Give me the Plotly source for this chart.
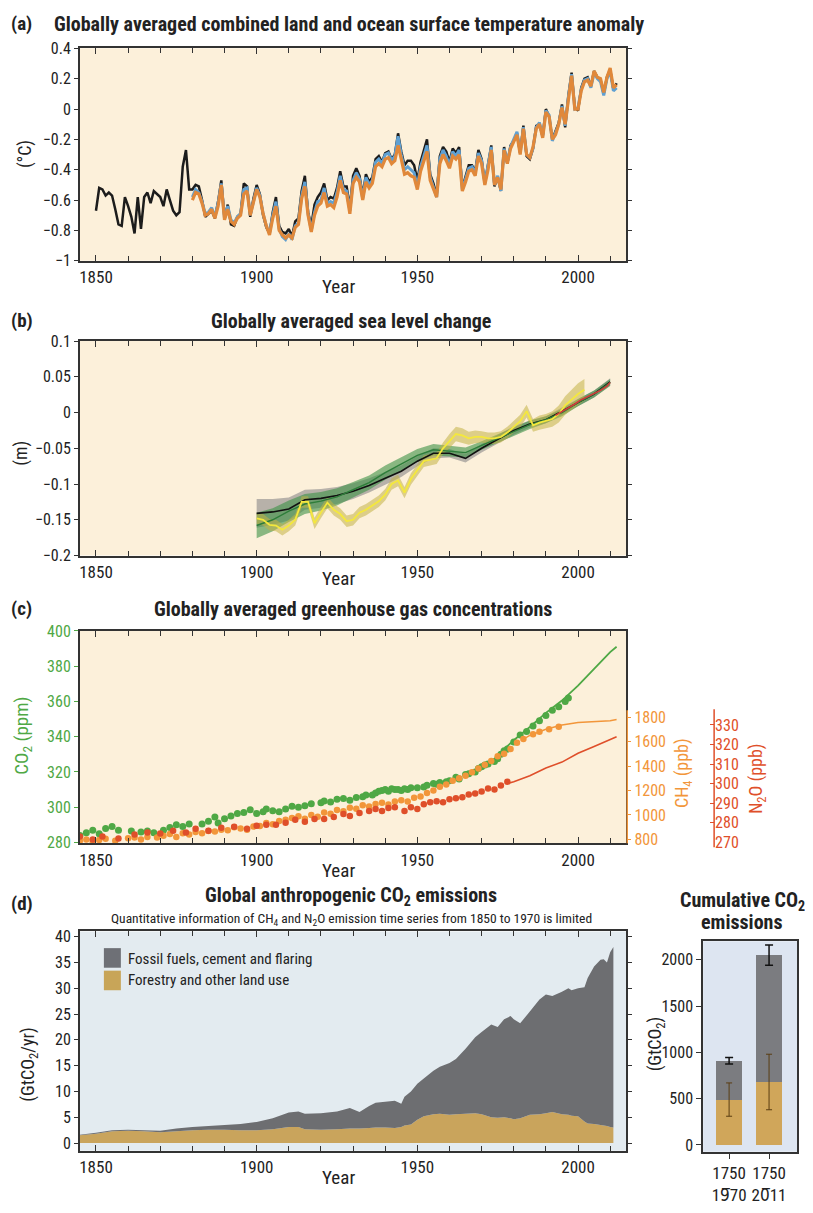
import plotly.graph_objects as go

# the page body has an 8px margin: size the figure so the page fits the 813x1213 window exactly
OFF = 8
W, H = 813 - OFF, 1213 - 2 * OFF
def fx(p): return (p - OFF) / W
def fy(p): return 1 - (p - OFF) / H

FONT = "Liberation Sans Narrow, Roboto Condensed, DejaVu Sans Condensed, Liberation Sans, sans-serif"
AX = "#333333"

# ---------------- (a) temperature anomaly ----------------
years_black = list(range(1850, 2013))
temp_black = [
    -0.67, -0.52, -0.53, -0.57, -0.55, -0.57, -0.66, -0.76, -0.77, -0.58,
    -0.64, -0.71, -0.82, -0.58, -0.79, -0.58, -0.55, -0.62, -0.54, -0.56,
    -0.58, -0.64, -0.53, -0.60, -0.67, -0.70, -0.68, -0.38, -0.27, -0.53,
    -0.53, -0.50, -0.51, -0.60, -0.71, -0.69, -0.67, -0.72, -0.61, -0.47,
    -0.72, -0.63, -0.76, -0.77, -0.71, -0.69, -0.49, -0.51, -0.71, -0.59,
    -0.50, -0.56, -0.70, -0.78, -0.82, -0.68, -0.58, -0.77, -0.81, -0.82,
    -0.79, -0.84, -0.74, -0.72, -0.54, -0.44, -0.68, -0.77, -0.63, -0.58,
    -0.55, -0.49, -0.60, -0.58, -0.59, -0.52, -0.41, -0.51, -0.51, -0.65,
    -0.44, -0.39, -0.44, -0.57, -0.43, -0.48, -0.45, -0.33, -0.31, -0.35,
    -0.29, -0.28, -0.33, -0.30, -0.16, -0.28, -0.37, -0.34, -0.34, -0.37,
    -0.47, -0.35, -0.27, -0.20, -0.43, -0.49, -0.57, -0.31, -0.25, -0.28,
    -0.35, -0.26, -0.29, -0.25, -0.52, -0.44, -0.37, -0.37, -0.41, -0.27,
    -0.33, -0.49, -0.37, -0.24, -0.51, -0.45, -0.54, -0.25, -0.36, -0.24,
    -0.21, -0.16, -0.29, -0.11, -0.31, -0.33, -0.26, -0.11, -0.10, -0.18,
    0.00, -0.05, -0.20, -0.15, -0.09, 0.03, -0.12, 0.09, 0.24, 0.01,
    -0.01, 0.14, 0.20, 0.21, 0.15, 0.25, 0.21, 0.19, 0.10, 0.21,
    0.26, 0.13, 0.17]
years_other = list(range(1880, 2013))
temp_blue = [
    -0.58, -0.53, -0.55, -0.61, -0.69, -0.68, -0.65, -0.71, -0.62, -0.49,
    -0.72, -0.64, -0.73, -0.75, -0.71, -0.69, -0.53, -0.52, -0.70, -0.60,
    -0.52, -0.57, -0.69, -0.77, -0.82, -0.70, -0.61, -0.79, -0.84, -0.86,
    -0.82, -0.86, -0.77, -0.75, -0.57, -0.48, -0.69, -0.80, -0.68, -0.61,
    -0.60, -0.52, -0.62, -0.61, -0.62, -0.55, -0.44, -0.53, -0.54, -0.67,
    -0.47, -0.42, -0.46, -0.59, -0.45, -0.50, -0.47, -0.35, -0.33, -0.36,
    -0.30, -0.29, -0.34, -0.31, -0.18, -0.30, -0.40, -0.38, -0.40, -0.42,
    -0.51, -0.38, -0.31, -0.24, -0.45, -0.51, -0.58, -0.33, -0.27, -0.31,
    -0.37, -0.28, -0.31, -0.27, -0.53, -0.46, -0.39, -0.38, -0.42, -0.29,
    -0.34, -0.49, -0.38, -0.25, -0.50, -0.44, -0.54, -0.26, -0.35, -0.25,
    -0.20, -0.15, -0.29, -0.12, -0.30, -0.32, -0.26, -0.12, -0.09, -0.18,
    -0.01, -0.04, -0.21, -0.16, -0.10, 0.02, -0.11, 0.08, 0.23, 0.00,
    0.01, 0.13, 0.19, 0.20, 0.14, 0.24, 0.20, 0.18, 0.09, 0.20,
    0.25, 0.12, 0.14]
temp_orange = [
    -0.60, -0.55, -0.56, -0.62, -0.70, -0.69, -0.66, -0.72, -0.64, -0.50,
    -0.73, -0.66, -0.74, -0.76, -0.72, -0.70, -0.56, -0.54, -0.70, -0.62,
    -0.53, -0.58, -0.69, -0.77, -0.83, -0.72, -0.64, -0.80, -0.83, -0.85,
    -0.83, -0.85, -0.78, -0.76, -0.59, -0.51, -0.70, -0.81, -0.70, -0.64,
    -0.62, -0.55, -0.64, -0.63, -0.65, -0.58, -0.47, -0.55, -0.56, -0.69,
    -0.49, -0.45, -0.48, -0.60, -0.48, -0.52, -0.49, -0.38, -0.36, -0.38,
    -0.33, -0.32, -0.36, -0.34, -0.24, -0.33, -0.43, -0.42, -0.44, -0.45,
    -0.53, -0.41, -0.35, -0.28, -0.47, -0.52, -0.58, -0.36, -0.30, -0.34,
    -0.39, -0.31, -0.33, -0.30, -0.54, -0.48, -0.41, -0.40, -0.44, -0.31,
    -0.36, -0.50, -0.40, -0.27, -0.50, -0.45, -0.53, -0.27, -0.36, -0.26,
    -0.21, -0.17, -0.30, -0.13, -0.30, -0.32, -0.25, -0.13, -0.10, -0.19,
    -0.02, -0.05, -0.20, -0.17, -0.10, 0.01, -0.10, 0.07, 0.22, 0.00,
    0.00, 0.12, 0.18, 0.19, 0.15, 0.25, 0.21, 0.20, 0.11, 0.21,
    0.27, 0.14, 0.16]

# ---------------- (b) sea level ----------------
sl_years5 = [1900, 1905, 1910, 1915, 1920, 1925, 1930, 1935, 1940, 1945, 1950, 1955,
             1960, 1965, 1970, 1975, 1980, 1985, 1990, 1995, 2000, 2005, 2010]
sl_black = [-0.141, -0.139, -0.135, -0.122, -0.120, -0.116, -0.110, -0.102, -0.092, -0.082,
            -0.068, -0.057, -0.057, -0.064, -0.050, -0.038, -0.025, -0.016, -0.010, 0.002,
            0.014, 0.026, 0.043]
sl_black_hw = [0.020, 0.018, 0.016, 0.014, 0.013, 0.012, 0.011, 0.010, 0.009, 0.008,
               0.007, 0.007, 0.006, 0.006, 0.006, 0.006, 0.006, 0.005, 0.005, 0.005,
               0.005, 0.005, 0.005]
sl_green = [-0.158, -0.150, -0.138, -0.128, -0.124, -0.118, -0.108, -0.098, -0.084, -0.072,
            -0.060, -0.052, -0.054, -0.056, -0.046, -0.036, -0.026, -0.017, -0.010, 0.000,
            0.014, 0.026, 0.042]
sl_green_hw = [0.018, 0.016, 0.015, 0.014, 0.013, 0.012, 0.011, 0.010, 0.010, 0.010,
               0.009, 0.008, 0.007, 0.007, 0.006, 0.006, 0.006, 0.006, 0.005, 0.005,
               0.005, 0.005, 0.005]
sl_years2 = [1900, 1902, 1904, 1906, 1908, 1910, 1912, 1914, 1916, 1918, 1920, 1922, 1924,
             1926, 1928, 1930, 1932, 1934, 1936, 1938, 1940, 1942, 1944, 1946, 1948, 1950,
             1952, 1954, 1956, 1958, 1960, 1962, 1964, 1966, 1968, 1970, 1972, 1974, 1976,
             1978, 1980, 1982, 1984, 1986, 1988, 1990, 1992, 1994, 1996, 1998, 2000, 2002]
sl_yellow = [-0.148, -0.150, -0.157, -0.158, -0.164, -0.158, -0.150, -0.125, -0.125, -0.155,
             -0.140, -0.126, -0.136, -0.142, -0.152, -0.150, -0.140, -0.136, -0.130, -0.124,
             -0.115, -0.100, -0.095, -0.112, -0.093, -0.080, -0.068, -0.066, -0.064, -0.050,
             -0.040, -0.030, -0.032, -0.036, -0.034, -0.034, -0.036, -0.036, -0.034, -0.028,
             -0.020, -0.012, 0.002, -0.018, -0.014, -0.012, -0.009, -0.002, 0.010, 0.018,
             0.026, 0.032]
sl_yellow_hw = [0.008, 0.008, 0.008, 0.008, 0.008, 0.008, 0.008, 0.008, 0.008, 0.008,
                0.008, 0.008, 0.008, 0.008, 0.008, 0.008, 0.008, 0.008, 0.008, 0.008,
                0.008, 0.008, 0.008, 0.008, 0.008, 0.008, 0.008, 0.008, 0.008, 0.008,
                0.010, 0.010, 0.010, 0.009, 0.009, 0.008, 0.008, 0.008, 0.008, 0.008,
                0.008, 0.009, 0.009, 0.009, 0.010, 0.010, 0.011, 0.012, 0.013, 0.014,
                0.015, 0.015]
sl_red_years = [1993, 1995, 1997, 1999, 2001, 2003, 2005, 2007, 2009, 2010]
sl_red = [-0.004, 0.001, 0.006, 0.012, 0.018, 0.022, 0.027, 0.031, 0.037, 0.042]

# ---------------- (c) greenhouse gases ----------------
co2_dot_years = [1845, 1847, 1849, 1851, 1853, 1855, 1857, 1861, 1864, 1866, 1868, 1871, 1873,
                 1875, 1877, 1879, 1883, 1885, 1887, 1888, 1890, 1892, 1894, 1896, 1898, 1900,
                 1902, 1903, 1905, 1907, 1909, 1911, 1913, 1915, 1917, 1920, 1921, 1923, 1925,
                 1927, 1929, 1931, 1933, 1934, 1936, 1937, 1938, 1939, 1940, 1941, 1942, 1943,
                 1944, 1945, 1946, 1947, 1948, 1950, 1952, 1953, 1955, 1956, 1957, 1959, 1960,
                 1962, 1963, 1965, 1966, 1968, 1969, 1970, 1971, 1972, 1974, 1975, 1976, 1977,
                 1978, 1980, 1982, 1984, 1986, 1988, 1990, 1992, 1994, 1996, 1997]
co2_dots = [284.0, 285.5, 287.0, 285.0, 288.0, 289.0, 287.0, 286.5, 286.0, 286.5, 285.5, 287.0,
            288.5, 290.0, 289.0, 290.5, 290.5, 292.0, 294.5, 291.0, 293.5, 295.0, 296.5, 297.0,
            298.5, 296.5, 297.5, 299.0, 298.0, 297.5, 299.0, 300.5, 300.0, 300.8, 302.0, 302.5,
            303.5, 303.0, 304.5, 305.0, 304.0, 305.5, 306.0, 307.0, 307.0, 308.0, 309.0, 309.5,
            310.0, 309.0, 310.5, 310.0, 310.0, 309.5, 310.5, 310.0, 311.0, 311.0, 311.5, 312.5,
            313.5, 313.0, 314.0, 314.5, 315.0, 317.0, 316.0, 318.5, 319.0, 320.0, 322.0, 323.0,
            324.0, 324.5, 326.0, 327.5, 330.0, 332.0, 333.0, 337.0, 341.0, 343.0, 346.0, 349.0,
            352.0, 355.0, 357.0, 360.0, 362.0]
co2_line_years = [1977, 1980, 1985, 1990, 1995, 2000, 2005, 2010, 2012]
co2_line = [333.0, 338.0, 345.5, 353.5, 360.5, 369.0, 378.5, 388.0, 391.0]

ch4_dot_years = [1845, 1847, 1849, 1851, 1853, 1856, 1860, 1862, 1864, 1866, 1869, 1871, 1873,
                 1875, 1877, 1879, 1881, 1883, 1885, 1887, 1889, 1891, 1893, 1895, 1897, 1899,
                 1901, 1903, 1905, 1907, 1909, 1911, 1913, 1915, 1917, 1919, 1921, 1923, 1925,
                 1927, 1929, 1931, 1933, 1935, 1937, 1939, 1941, 1943, 1945, 1947, 1949, 1951,
                 1953, 1955, 1957, 1959, 1961, 1963, 1965, 1967, 1969, 1971, 1973, 1975, 1977,
                 1979, 1981, 1983, 1986, 1988, 1991, 1994]
ch4_dots = [790, 800, 780, 795, 805, 790, 810, 815, 800, 820, 815, 830, 845, 820, 850, 840,
            860, 850, 870, 865, 880, 875, 900, 890, 880, 905, 910, 935, 925, 950, 960, 975,
            990, 970, 1000, 985, 1020, 1010, 1040, 1030, 1060, 1050, 1080, 1070, 1090, 1100,
            1085, 1110, 1120, 1110, 1140, 1150, 1180, 1200, 1230, 1250, 1280, 1300, 1320, 1350,
            1380, 1410, 1440, 1480, 1500, 1540, 1590, 1620, 1660, 1680, 1700, 1720]
ch4_line_years = [1983, 1985, 1990, 1995, 2000, 2005, 2010, 2012]
ch4_line = [1620, 1650, 1700, 1735, 1755, 1762, 1770, 1780]

n2o_dot_years = [1845, 1849, 1852, 1857, 1862, 1866, 1870, 1874, 1878, 1881, 1885, 1889, 1893,
                 1897, 1900, 1903, 1906, 1909, 1912, 1915, 1918, 1921, 1924, 1927, 1929, 1932,
                 1935, 1937, 1939, 1941, 1943, 1946, 1948, 1950, 1952, 1954, 1956, 1958, 1960,
                 1962, 1964, 1966, 1968, 1970, 1972, 1974, 1976, 1978]
n2o_dots = [273.0, 271.5, 273.0, 272.0, 274.0, 275.0, 274.5, 276.0, 275.0, 277.0, 276.0, 277.5,
            278.0, 277.0, 278.5, 279.0, 279.0, 280.0, 281.5, 280.5, 282.0, 282.0, 283.0, 284.5,
            283.5, 285.0, 286.0, 287.0, 286.0, 287.5, 288.0, 286.0, 288.0, 287.0, 289.5, 290.5,
            291.0, 290.5, 292.0, 292.5, 293.0, 294.5, 295.0, 296.0, 297.5, 297.0, 299.0, 301.0]
n2o_line_years = [1978, 1980, 1985, 1990, 1995, 2000, 2005, 2010, 2012]
n2o_line = [300.0, 301.0, 304.0, 308.0, 311.0, 315.5, 319.0, 322.5, 324.0]

# ---------------- (d) emissions ----------------
em_years = [1845, 1850, 1855, 1860, 1865, 1870, 1875, 1880, 1885, 1890, 1895, 1900, 1905, 1910,
            1913, 1915, 1920, 1925, 1929, 1932, 1935, 1937, 1940, 1943, 1945, 1946, 1948, 1950,
            1952, 1955, 1957, 1960, 1962, 1965, 1968, 1970, 1973, 1975, 1977, 1979, 1980, 1982,
            1985, 1988, 1990, 1992, 1995, 1997, 1998, 2000, 2002, 2003, 2005, 2007, 2008, 2009,
            2010, 2011]
em_forestry = [1.5, 1.8, 2.3, 2.4, 2.3, 2.1, 2.3, 2.5, 2.6, 2.6, 2.5, 2.5, 2.7, 3.1, 3.1, 2.7,
               2.6, 2.7, 2.8, 2.8, 2.9, 3.0, 3.0, 2.9, 3.1, 3.4, 3.6, 4.5, 5.2, 5.6, 5.7, 5.5,
               5.6, 5.7, 5.8, 5.6, 5.0, 4.9, 5.0, 4.8, 4.6, 4.8, 5.5, 5.6, 5.8, 6.0, 5.6, 5.5,
               5.3, 5.2, 4.2, 3.8, 3.7, 3.5, 3.4, 3.3, 3.1, 3.0]
em_fossil = [0.1, 0.2, 0.2, 0.2, 0.2, 0.3, 0.5, 0.6, 0.7, 0.9, 1.2, 1.6, 2.1, 2.8, 3.0, 3.0,
             3.2, 3.4, 4.0, 3.2, 4.3, 4.8, 5.0, 5.3, 4.5, 5.6, 6.4, 7.0, 7.3, 8.4, 9.1, 10.0,
             10.7, 12.6, 14.7, 15.9, 18.0, 17.6, 19.0, 19.8, 19.4, 18.4, 20.0, 22.2, 23.0, 22.5,
             23.7, 24.5, 24.3, 24.8, 26.0, 28.2, 30.5, 32.0, 32.2, 31.7, 33.9, 35.0]
em_names = ["Fossil fuels, cement and flaring", "Forestry and other land use"]

cum_periods = ["1750<br>19\u030570", "1750<br>20\u030511"]
cum_forestry = [490, 680]
cum_forestry_err = [180, 300]
cum_fossil = [420, 1370]
cum_fossil_err = [35, 110]

# ---------------- colours ----------------
CREAM = "#fcf0da"
C_BLACK, C_BLUE, C_ORANGE = "#1c1c1c", "#5fa0d2", "#e0883a"
C_CO2, C_CH4, C_N2O = "#4fa845", "#f2963a", "#df4f2a"
C_TAN, C_GREY = "#c9a45c", "#6d6e71"

fig = go.Figure()

# (a)
fig.add_trace(go.Scatter(x=years_black, y=temp_black, mode="lines",
                         line=dict(color=C_BLACK, width=2.5), xaxis="x", yaxis="y"))
fig.add_trace(go.Scatter(x=years_other, y=temp_blue, mode="lines",
                         line=dict(color=C_BLUE, width=3), xaxis="x", yaxis="y"))
fig.add_trace(go.Scatter(x=years_other, y=temp_orange, mode="lines",
                         line=dict(color=C_ORANGE, width=3.2), xaxis="x", yaxis="y"))

# (b) bands + lines
def band(xs, c, hw, fill):
    lo = [a - b for a, b in zip(c, hw)]
    hi = [a + b for a, b in zip(c, hw)]
    fig.add_trace(go.Scatter(x=xs, y=lo, mode="lines", line=dict(width=0), xaxis="x2", yaxis="y2",
                             hoverinfo="skip"))
    fig.add_trace(go.Scatter(x=xs, y=hi, mode="lines", line=dict(width=0), fill="tonexty",
                             fillcolor=fill, xaxis="x2", yaxis="y2", hoverinfo="skip"))

band(sl_years5, sl_black, sl_black_hw, "rgba(125,125,130,0.55)")
band(sl_years5, sl_green, sl_green_hw, "rgba(60,145,70,0.6)")
band(sl_years2, sl_yellow, sl_yellow_hw, "rgba(195,178,70,0.55)")
fig.add_trace(go.Scatter(x=sl_years5, y=sl_black, mode="lines", line=dict(color="#111111", width=1.6),
                         xaxis="x2", yaxis="y2"))
fig.add_trace(go.Scatter(x=sl_years5, y=sl_green, mode="lines", line=dict(color="#2e7d3a", width=1.4),
                         xaxis="x2", yaxis="y2"))
fig.add_trace(go.Scatter(x=sl_years2, y=sl_yellow, mode="lines", line=dict(color="#f4e83c", width=1.8),
                         xaxis="x2", yaxis="y2"))
fig.add_trace(go.Scatter(x=sl_red_years, y=sl_red, mode="lines", line=dict(color="#d23a3a", width=1.6),
                         xaxis="x2", yaxis="y2"))

# (c)
fig.add_trace(go.Scatter(x=n2o_dot_years, y=n2o_dots, mode="markers",
                         marker=dict(color=C_N2O, size=6.5), xaxis="x3", yaxis="y5"))
fig.add_trace(go.Scatter(x=n2o_line_years, y=n2o_line, mode="lines",
                         line=dict(color=C_N2O, width=1.6), xaxis="x3", yaxis="y5"))
fig.add_trace(go.Scatter(x=ch4_dot_years, y=ch4_dots, mode="markers",
                         marker=dict(color=C_CH4, size=6.5), xaxis="x3", yaxis="y4"))
fig.add_trace(go.Scatter(x=ch4_line_years, y=ch4_line, mode="lines",
                         line=dict(color=C_CH4, width=1.6), xaxis="x3", yaxis="y4"))
fig.add_trace(go.Scatter(x=co2_dot_years, y=co2_dots, mode="markers",
                         marker=dict(color=C_CO2, size=7), xaxis="x3", yaxis="y3"))
fig.add_trace(go.Scatter(x=co2_line_years, y=co2_line, mode="lines",
                         line=dict(color=C_CO2, width=1.8), xaxis="x3", yaxis="y3"))

# (d)
fig.add_trace(go.Scatter(x=em_years, y=em_forestry, stackgroup="em", mode="none", fillcolor=C_TAN,
                         name=em_names[1], xaxis="x4", yaxis="y6"))
fig.add_trace(go.Scatter(x=em_years, y=em_fossil, stackgroup="em", mode="none", fillcolor=C_GREY,
                         name=em_names[0], xaxis="x4", yaxis="y6"))

# cumulative bars
cum_x = [0, 1]
cum_total = [a + b for a, b in zip(cum_forestry, cum_fossil)]
fig.add_trace(go.Bar(x=cum_x, y=cum_forestry, width=0.65, marker=dict(color="#d0a65a", line=dict(width=0)),
                     xaxis="x5", yaxis="y7"))
fig.add_trace(go.Bar(x=cum_x, y=cum_fossil, width=0.65, marker=dict(color="#7b7c80", line=dict(width=0)),
                     xaxis="x5", yaxis="y7"))
fig.add_trace(go.Scatter(x=cum_x, y=cum_forestry, mode="markers", marker=dict(size=1, opacity=0),
                         error_y=dict(type="data", array=cum_forestry_err, color="#5a3d12", thickness=1, width=3),
                         xaxis="x5", yaxis="y7"))
fig.add_trace(go.Scatter(x=cum_x, y=cum_total, mode="markers", marker=dict(size=1, opacity=0),
                         error_y=dict(type="data", array=cum_fossil_err, color="#111111", thickness=1.5, width=4),
                         xaxis="x5", yaxis="y7"))

# ---------------- axes ----------------
XD = [fx(79), fx(626)]
dec_ticks = list(range(1850, 2011, 10))
TF = 17
TFY = 16

def xax(anchor):
    return dict(domain=XD, anchor=anchor, range=[1845, 2015], tickvals=[1850, 1900, 1950, 2000],
                ticks="inside", ticklen=6, tickcolor=AX, tickwidth=1.2,
                minor=dict(tickvals=dec_ticks, ticks="inside", ticklen=5, tickcolor=AX, tickwidth=1.2),
                showline=True, linecolor=AX, linewidth=1.8, mirror="ticks",
                showgrid=False, zeroline=False, tickfont=dict(size=TF, color="#222"))

def yax(anchor, top, bot, rng, dtick, color="#222"):
    return dict(domain=[fy(bot), fy(top)], anchor=anchor, range=rng, dtick=dtick,
                ticks="outside", ticklen=4, tickcolor=AX, showline=True, linecolor=AX, linewidth=1.8,
                mirror="ticks", showgrid=False, zeroline=False, tickfont=dict(size=TFY, color=color))

layout = dict(
    width=W, height=H, autosize=False, margin=dict(l=0, r=0, t=0, b=0),
    paper_bgcolor="white", plot_bgcolor="rgba(0,0,0,0)",
    font=dict(family=FONT, size=13, color="#222"),
    barmode="stack", showlegend=False,
    xaxis=xax("y"),
    yaxis=yax("x", 40, 257, [-1, 0.4], 0.2),
    xaxis2=xax("y2"),
    yaxis2=yax("x2", 339, 558, [-0.2, 0.1], 0.05),
    xaxis3=xax("y3"),
    yaxis3=dict(domain=[fy(852), fy(635)], anchor="x3", range=[279.5, 400], dtick=20,
                ticks="outside", ticklen=4, tickcolor=C_CO2, showline=True, linecolor=AX, linewidth=1.8,
                mirror=True, showgrid=False, zeroline=False, tickfont=dict(size=TFY, color=C_CO2)),
    yaxis4=dict(overlaying="y3", anchor="x3", side="right", range=[768, 2504],
                tickvals=[800, 1000, 1200, 1400, 1600, 1800], ticks="outside", ticklen=4,
                tickcolor=C_CH4, showline=False, showgrid=False, zeroline=False,
                tickfont=dict(size=TFY, color=C_CH4)),
    yaxis5=dict(overlaying="y3", anchor="free", position=fx(714), side="right", range=[269.5, 378],
                tickvals=[270, 280, 290, 300, 310, 320, 330], ticks="inside", ticklen=4,
                tickcolor=C_N2O, showline=False, showgrid=False, zeroline=False,
                tickfont=dict(size=TFY, color=C_N2O)),
    xaxis4=xax("y6"),
    yaxis6=yax("x4", 942, 1166, [-1.5, 41], 5),
    xaxis5=dict(domain=[fx(703), fx(797)], anchor="y7", range=[-0.65, 1.7], tickvals=cum_x,
                ticktext=cum_periods, ticks="outside", ticklen=5, tickcolor=AX,
                showline=True, linecolor=AX, linewidth=1.8, mirror=True, showgrid=False, zeroline=False,
                tickfont=dict(size=TF, color="#222")),
    yaxis7=dict(domain=[fy(1167), fy(952)], anchor="x5", range=[-74, 2200],
                tickvals=[0, 500, 1000, 1500, 2000], ticks="outside", ticklen=5, tickcolor=AX,
                showline=True, linecolor=AX, linewidth=1.8, mirror=True, showgrid=False, zeroline=False,
                tickfont=dict(size=TFY, color="#222")),
)

shapes = [
    dict(type="rect", xref="x domain", yref="y domain", x0=0, x1=1, y0=0, y1=1,
         fillcolor=CREAM, line=dict(width=0), layer="below"),
    dict(type="rect", xref="x2 domain", yref="y2 domain", x0=0, x1=1, y0=0, y1=1,
         fillcolor=CREAM, line=dict(width=0), layer="below"),
    dict(type="rect", xref="x3 domain", yref="y3 domain", x0=0, x1=1, y0=0, y1=1,
         fillcolor=CREAM, line=dict(width=0), layer="below"),
    dict(type="rect", xref="x4 domain", yref="y6 domain", x0=0, x1=1, y0=0, y1=1,
         fillcolor="#e3ebf0", line=dict(width=0), layer="below"),
    dict(type="rect", xref="x5 domain", yref="y7 domain", x0=0, x1=1, y0=0, y1=1,
         fillcolor="#dde5f1", line=dict(width=0), layer="below"),
    # CH4 and N2O axis lines (partial height)
    dict(type="line", xref="paper", yref="paper", x0=fx(627), x1=fx(627), y0=fy(852), y1=fy(716),
         line=dict(color=C_CH4, width=1.5)),
    dict(type="line", xref="paper", yref="paper", x0=fx(714), x1=fx(714), y0=fy(856), y1=fy(715),
         line=dict(color=C_N2O, width=1.5)),
    # legend swatches for panel (d)
    dict(type="rect", xref="paper", yref="paper", x0=fx(103), x1=fx(120), y0=fy(979), y1=fy(959),
         fillcolor="#6e7076", line=dict(width=0)),
    dict(type="rect", xref="paper", yref="paper", x0=fx(103), x1=fx(120), y0=fy(1002), y1=fy(982),
         fillcolor="#c8a558", line=dict(width=0)),
]
layout["shapes"] = shapes

def ann(text, x, y, size=13, bold=False, color="#222", xanchor="center", angle=0, yanchor="middle"):
    return dict(text=("<b>%s</b>" % text) if bold else text, x=fx(x), y=fy(y), xref="paper", yref="paper",
                showarrow=False, xanchor=xanchor, yanchor=yanchor, textangle=angle,
                font=dict(size=size, color=color, family=FONT))

annotations = [
    ann("(a)", 8, 15, 19, True, xanchor="left"),
    ann("Globally averaged combined land and ocean surface temperature anomaly", 51, 15, 20, True, xanchor="left"),
    ann("(b)", 8, 318, 19, True, xanchor="left"),
    ann("Globally averaged sea level change", 350, 318, 20, True),
    ann("(c)", 8, 612, 19, True, xanchor="left"),
    ann("Globally averaged greenhouse gas concentrations", 352, 613, 20, True),
    ann("(d)", 8, 913, 19, True, xanchor="left"),
    ann("Global anthropogenic CO<sub>2</sub> emissions", 350, 906, 20, True),
    ann("Quantitative information of CH<sub>4</sub> and N<sub>2</sub>O emission time series from 1850 to 1970 is limited",
        351, 929, 13.5),
    ann("Cumulative CO<sub>2</sub>", 742, 911, 20, True),
    ann("emissions", 742, 932, 20, True),
    ann("Year", 338, 283, 19),
    ann("Year", 338, 581, 19),
    ann("Year", 338, 880, 19),
    ann("Year", 338, 1193, 19),
    ann("(°C)", 24, 148, 18, angle=-90),
    ann("(m)", 20, 453, 18, angle=-90),
    ann("CO<sub>2</sub> (ppm)", 22, 742, 19, color=C_CO2, angle=-90),
    ann("CH<sub>4</sub> (ppb)", 683, 780, 18, color=C_CH4, angle=-90),
    ann("N<sub>2</sub>O (ppb)", 757, 786, 18, color=C_N2O, angle=-90),
    ann("(GtCO<sub>2</sub>/yr)", 28, 1078, 18, angle=-90),
    ann("(GtCO<sub>2</sub>)", 656, 1057, 18, angle=-90),
    ann(em_names[0], 125, 970, 15, xanchor="left"),
    ann(em_names[1], 125, 992, 15, xanchor="left"),
]
layout["annotations"] = annotations

fig.update_layout(**layout)
fig.write_html("out.html")
